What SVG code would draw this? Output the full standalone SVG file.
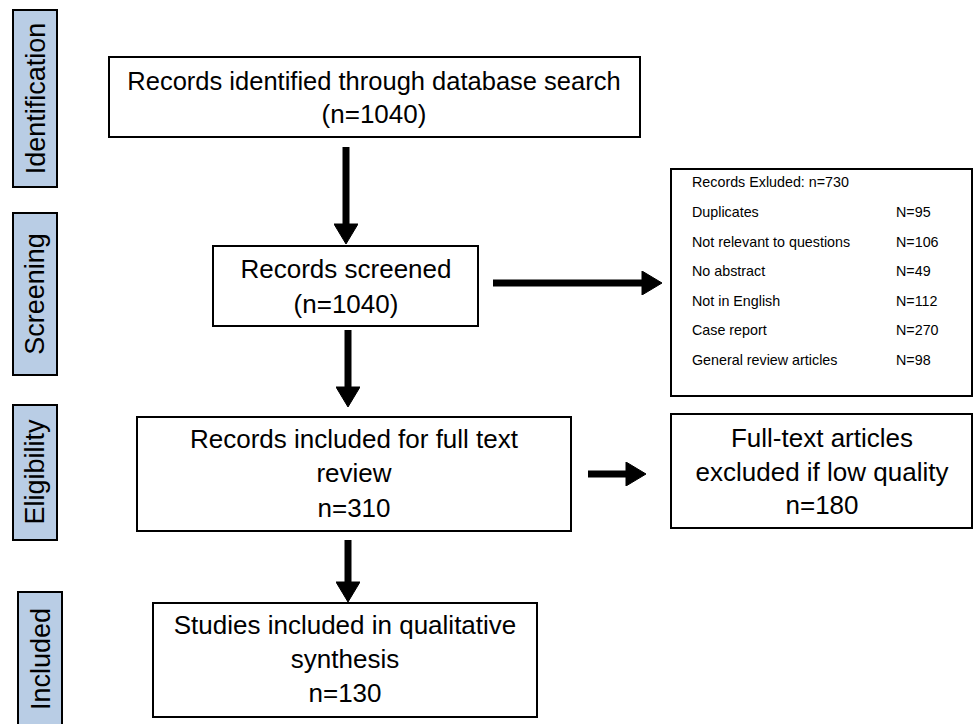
<svg xmlns="http://www.w3.org/2000/svg" width="975" height="724" viewBox="0 0 975 724">
  <style>
    .box { fill: #ffffff; stroke: #000000; stroke-width: 2; }
    .side { fill: #b9cde5; stroke: #000000; stroke-width: 2; }
    .t { font-family: "Liberation Sans", Arial, sans-serif; font-size: 26px; fill: #000000; text-anchor: middle; }
    .s { font-family: "Liberation Sans", Arial, sans-serif; font-size: 27px; fill: #000000; text-anchor: middle; }
    .x { font-family: "Liberation Sans", Arial, sans-serif; font-size: 14.3px; fill: #000000; }
    .arr { stroke: #000000; stroke-width: 7; fill: none; }
  </style>
  <defs>
    <marker id="head" markerUnits="userSpaceOnUse" markerWidth="22" markerHeight="24" viewBox="0 0 20 24" refX="1" refY="12" orient="auto">
      <path d="M0,0 L20,12 L0,24 z" fill="#000000" stroke="#000000" stroke-width="1" stroke-linejoin="round"/>
    </marker>
  </defs>

  <rect width="975" height="724" fill="#ffffff"/>

  <g id="label-identification">
    <rect class="side" x="13" y="10" width="44" height="177"/>
    <text class="s" transform="translate(45,98.5) rotate(-90)">Identification</text>
  </g>
  <g id="label-screening">
    <rect class="side" x="13" y="213" width="44" height="162"/>
    <text class="s" transform="translate(44,294) rotate(-90)">Screening</text>
  </g>
  <g id="label-eligibility">
    <rect class="side" x="13" y="405" width="44" height="135"/>
    <text class="s" transform="translate(44,472) rotate(-90)">Eligibility</text>
  </g>
  <g id="label-included">
    <rect class="side" x="18" y="592" width="44" height="140"/>
    <text class="s" transform="translate(50,659) rotate(-90)">Included</text>
  </g>

  <g id="identified">
    <rect class="box" x="109" y="57" width="531" height="80"/>
    <text class="t" x="374" y="90" style="font-size:25.5px">Records identified through database search</text>
    <text class="t" x="374" y="123">(n=1040)</text>
  </g>

  <g id="screened">
    <rect class="box" x="213" y="246" width="265" height="80"/>
    <text class="t" x="346" y="278">Records screened</text>
    <text class="t" x="346" y="313">(n=1040)</text>
  </g>

  <g id="excluded">
    <rect class="box" x="671" y="169" width="301" height="227"/>
    <text class="x" x="692" y="187">Records Exluded: n=730</text>
    <text class="x" x="692" y="217">Duplicates</text>
    <text class="x" x="896" y="217">N=95</text>
    <text class="x" x="692" y="247">Not relevant to questions</text>
    <text class="x" x="896" y="247">N=106</text>
    <text class="x" x="692" y="276">No abstract</text>
    <text class="x" x="896" y="276">N=49</text>
    <text class="x" x="692" y="306">Not in English</text>
    <text class="x" x="896" y="306">N=112</text>
    <text class="x" x="692" y="335">Case report</text>
    <text class="x" x="896" y="335">N=270</text>
    <text class="x" x="692" y="365">General review articles</text>
    <text class="x" x="896" y="365">N=98</text>
  </g>

  <g id="fulltext-review">
    <rect class="box" x="137" y="417" width="434" height="114"/>
    <text class="t" x="354" y="448">Records included for full text</text>
    <text class="t" x="354" y="482">review</text>
    <text class="t" x="354" y="517">n=310</text>
  </g>

  <g id="fulltext-excluded">
    <rect class="box" x="671" y="414" width="301" height="114"/>
    <text class="t" x="822" y="447">Full-text articles</text>
    <text class="t" x="822" y="481">excluded if low quality</text>
    <text class="t" x="822" y="514">n=180</text>
  </g>

  <g id="studies-included">
    <rect class="box" x="153" y="603" width="384" height="114"/>
    <text class="t" x="345" y="634">Studies included in qualitative</text>
    <text class="t" x="345" y="668">synthesis</text>
    <text class="t" x="345" y="702">n=130</text>
  </g>

  <g id="connectors">
    <line class="arr" x1="346" y1="147" x2="346" y2="225" marker-end="url(#head)"/>
    <line class="arr" x1="348" y1="330" x2="348" y2="388" marker-end="url(#head)"/>
    <line class="arr" x1="348" y1="540" x2="348" y2="583" marker-end="url(#head)"/>
    <line class="arr" x1="493" y1="283" x2="643" y2="283" marker-end="url(#head)"/>
    <line class="arr" x1="588" y1="474" x2="627" y2="474" marker-end="url(#head)"/>
  </g>
</svg>
